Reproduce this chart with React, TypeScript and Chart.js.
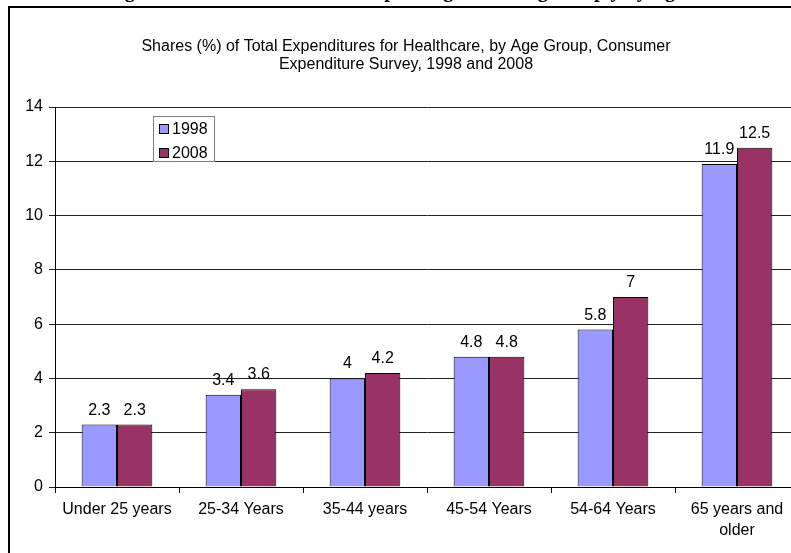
import React, { useEffect, useRef } from "react";
import { Chart, registerables } from "chart.js";

Chart.register(...registerables);

const categories: (string | string[])[] = [
  "Under 25 years",
  "25-34 Years",
  "35-44 years",
  "45-54 Years",
  "54-64 Years",
  ["65 years and", "older"],
];
const series1998 = [2.3, 3.4, 4, 4.8, 5.8, 11.9];
const series2008 = [2.3, 3.6, 4.2, 4.8, 7, 12.5];
const seriesNames = ["1998", "2008"];
const yTicks = [0, 2, 4, 6, 8, 10, 12, 14];
const titleLines = [
  "Shares (%) of Total Expenditures for Healthcare, by Age Group, Consumer",
  "Expenditure Survey, 1998 and 2008",
];
const figureCaption = "Figure 2: Shares of Healthcare Spending Increasing Sharply by Age";

const COLORS = ["#9999FF", "#993366"];
const FONT = "'Liberation Sans', Arial, sans-serif";

const titlePlugin = {
  id: "customTitle",
  afterDraw(chart: any) {
    const { ctx, width } = chart;
    ctx.save();
    ctx.fillStyle = "#000";
    ctx.font = `16px ${FONT}`;
    ctx.textAlign = "center";
    ctx.textBaseline = "alphabetic";
    titleLines.forEach((line, i) => {
      ctx.fillText(line, width / 2, 43 + i * 18);
    });
    ctx.restore();
  },
};

const legendPlugin = {
  id: "customLegend",
  afterDraw(chart: any) {
    const { ctx } = chart;
    const x0 = 143;
    const y0 = 108;
    const w = 61;
    const h = 45;
    ctx.save();
    ctx.fillStyle = "#fff";
    ctx.fillRect(x0, y0, w, h);
    ctx.strokeStyle = "#808080";
    ctx.lineWidth = 1;
    ctx.strokeRect(x0 + 0.5, y0 + 0.5, w, h);
    ctx.font = `16px ${FONT}`;
    ctx.textBaseline = "middle";
    ctx.textAlign = "left";
    chart.data.datasets.forEach((ds: any, i: number) => {
      const sy = y0 + 8 + i * 24;
      ctx.fillStyle = ds.backgroundColor;
      ctx.fillRect(x0 + 6, sy, 10, 10);
      ctx.strokeStyle = "#000";
      ctx.strokeRect(x0 + 6.5, sy + 0.5, 9, 9);
      ctx.fillStyle = "#000";
      ctx.fillText(ds.label, x0 + 19, sy + 6);
    });
    ctx.restore();
  },
};

const dataLabelPlugin = {
  id: "dataLabels",
  afterDatasetsDraw(chart: any) {
    const { ctx } = chart;
    ctx.save();
    ctx.fillStyle = "#000";
    ctx.font = `16px ${FONT}`;
    ctx.textAlign = "center";
    ctx.textBaseline = "alphabetic";
    chart.data.datasets.forEach((ds: any, di: number) => {
      const meta = chart.getDatasetMeta(di);
      meta.data.forEach((el: any, i: number) => {
        ctx.fillText(String(ds.data[i]), el.x, el.y - 10);
      });
    });
    ctx.restore();
  },
};

function BarChart() {
  const ref = useRef<HTMLCanvasElement | null>(null);
  useEffect(() => {
    if (!ref.current) return;
    const chart = new Chart(ref.current, {
      type: "bar",
      data: {
        labels: categories,
        datasets: [
          {
            label: seriesNames[0],
            data: series1998,
            backgroundColor: COLORS[0],
            borderColor: "#000",
            borderWidth: 1,
            categoryPercentage: 0.57,
            barPercentage: 1,
          },
          {
            label: seriesNames[1],
            data: series2008,
            backgroundColor: COLORS[1],
            borderColor: "#000",
            borderWidth: 1,
            categoryPercentage: 0.57,
            barPercentage: 1,
          },
        ],
      },
      options: {
        animation: false,
        responsive: false,
        maintainAspectRatio: false,
        layout: { padding: { top: 99, right: 3, left: 0, bottom: 0 } },
        plugins: {
          legend: { display: false },
          title: { display: false },
          tooltip: { enabled: false },
        },
        scales: {
          x: {
            grid: {
              display: true,
              drawOnChartArea: false,
              drawTicks: true,
              tickLength: 6,
              color: "#000",
              offset: true,
            },
            border: { display: true, color: "#000", width: 1 },
            ticks: {
              color: "#000",
              font: { family: FONT, size: 16, lineHeight: 1.3 },
              padding: 6,
              maxRotation: 0,
              autoSkip: false,
            },
            afterFit(scale: any) {
              scale.height = 66;
            },
          },
          y: {
            min: 0,
            max: 14,
            afterBuildTicks(scale: any) {
              scale.ticks = yTicks.map((v) => ({ value: v }));
            },
            grid: {
              color: "#222",
              tickLength: 6,
              drawTicks: true,
            },
            border: { display: true, color: "#000", width: 1 },
            ticks: {
              color: "#000",
              font: { family: FONT, size: 16 },
              padding: 6,
            },
            afterFit(scale: any) {
              scale.width = 45;
            },
          },
        },
      },
      plugins: [dataLabelPlugin, titlePlugin, legendPlugin],
    });
    return () => chart.destroy();
  }, []);
  return (
    <canvas
      ref={ref}
      width={792}
      height={545}
      style={{ position: "absolute", left: 0, top: 0, width: 792, height: 545 }}
    />
  );
}

export default function App() {
  return (
    <div
      style={{
        position: "fixed",
        left: 0,
        top: 0,
        width: 791,
        height: 553,
        overflow: "hidden",
        background: "#fff",
      }}
    >
      <div
        style={{
          position: "absolute",
          left: 0,
          width: 791,
          top: -20,
          textAlign: "center",
          font: "bold 20px 'Liberation Serif', 'Times New Roman', serif",
          lineHeight: "20px",
          whiteSpace: "nowrap",
          color: "#000",
        }}
      >
        {figureCaption}
      </div>
      <div
        style={{
          position: "absolute",
          left: 8,
          top: 6,
          width: 800,
          height: 560,
          borderTop: "2px solid #000",
          borderLeft: "2px solid #000",
          boxSizing: "border-box",
        }}
      >
        <BarChart />
      </div>
    </div>
  );
}
